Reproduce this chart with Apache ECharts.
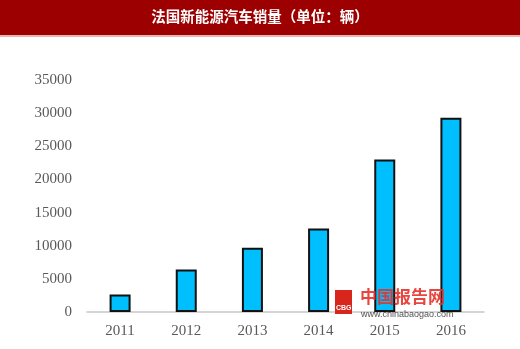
<!DOCTYPE html>
<html>
<head>
<meta charset="utf-8">
<script src="https://cdn.jsdelivr.net/npm/echarts@6/dist/echarts.min.js"></script>
<style>html,body{margin:0;padding:0;background:#fff;}#c{width:520px;height:349px;}</style>
</head>
<body>
<div id="c"></div>
<script>
var titleText = '法国新能源汽车销量（单位：辆）';
var categories = ['2011', '2012', '2013', '2014', '2015', '2016'];
var sales = [2630, 6400, 9700, 12600, 23000, 29300];
var yTicks = [0, 5000, 10000, 15000, 20000, 25000, 30000, 35000];

var chart = echarts.init(document.getElementById('c'), null, {renderer: 'canvas'});
chart.setOption({
  backgroundColor: '#ffffff',
  animation: false,
  graphic: [
    {type: 'rect', left: 0, top: 0, z: 100, shape: {width: 520, height: 35}, style: {fill: '#9c0000'}},
    {type: 'rect', left: 0, top: 35, z: 100, shape: {width: 520, height: 2}, style: {fill: '#e8b4b4'}},
    {type: 'text', left: 'center', top: 9, z: 101, style: {text: titleText, fill: '#ffffff', font: 'bold 14.5px "Noto Sans CJK SC", sans-serif'}},
    {type: 'rect', left: 335, top: 290, z: 100, shape: {width: 17, height: 24}, style: {fill: '#d9261c'}},
    {type: 'text', left: 336, top: 305, z: 101, style: {text: 'CBG', fill: '#ffffff', font: 'bold 7px Arial, sans-serif'}},
    {type: 'text', left: 360, top: 288, z: 100, style: {text: '中国报告网', fill: '#e8302a', font: 'bold 17px "Noto Sans CJK SC", sans-serif', opacity: 0.9}},
    {type: 'text', left: 361, top: 310, z: 100, style: {text: 'www.chinabaogao.com', fill: '#333333', font: '9px "Liberation Sans Narrow", Arial, sans-serif', opacity: 0.85}}
  ],
  grid: {left: 87, right: 36, top: 80, bottom: 37, containLabel: false},
  xAxis: {
    type: 'category',
    data: categories,
    axisLine: {show: true, lineStyle: {color: '#c8c8c8', width: 1.5}},
    axisTick: {show: false},
    axisLabel: {color: '#595959', fontFamily: '"Liberation Serif", "Times New Roman", serif', fontSize: 15, margin: 12}
  },
  yAxis: {
    type: 'value',
    min: yTicks[0], max: yTicks[yTicks.length - 1], interval: yTicks[1] - yTicks[0],
    axisLine: {show: false},
    axisTick: {show: false},
    splitLine: {show: false},
    axisLabel: {color: '#595959', fontFamily: '"Liberation Serif", "Times New Roman", serif', fontSize: 15, margin: 15,
      formatter: function (v) { return String(v); }}
  },
  series: [{
    type: 'bar',
    data: sales,
    barWidth: 21,
    itemStyle: {color: '#00bfff', borderColor: '#111111', borderWidth: 2}
  }]
});
</script>
</body>
</html>
